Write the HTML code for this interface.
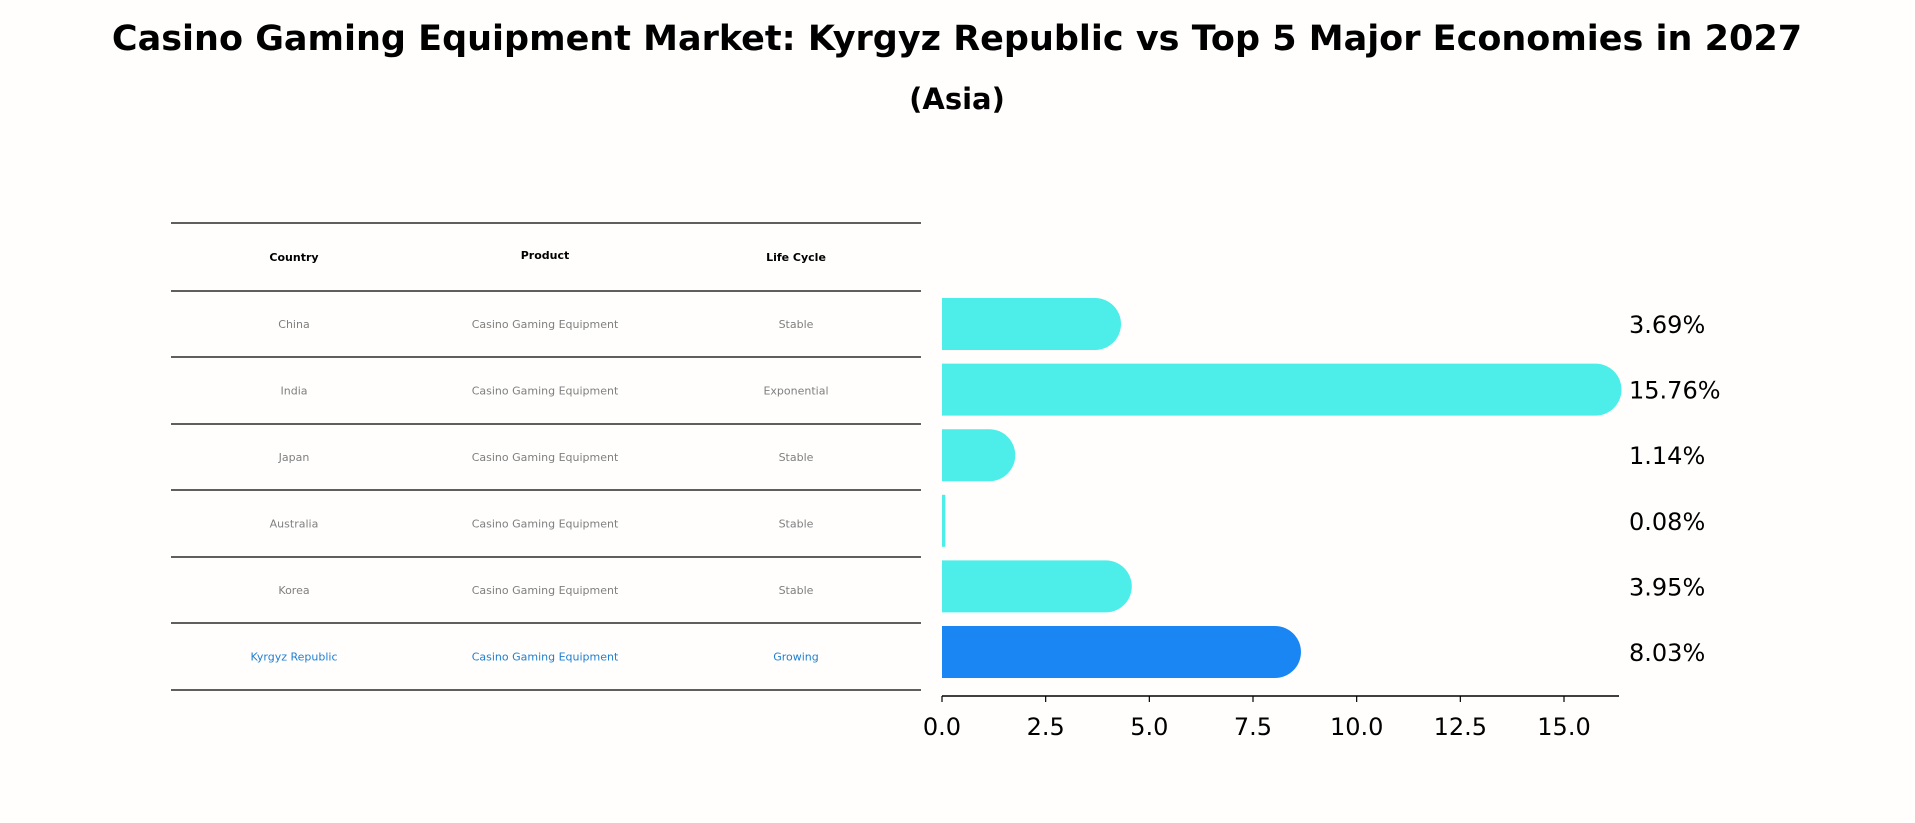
<!DOCTYPE html>
<html><head><meta charset="utf-8"><style>
body{margin:0;background:#fffefd;}
svg{display:block;font-family:"DejaVu Sans","Liberation Sans",sans-serif;}
</style></head><body>
<svg width="1915" height="823" viewBox="0 0 1915 823">
<rect width="1915" height="823" fill="#fffefd"/>
<text x="957" y="50" font-size="35" font-weight="bold" text-anchor="middle">Casino Gaming Equipment Market: Kyrgyz Republic vs Top 5 Major Economies in 2027</text>
<text x="957" y="109" font-size="29" font-weight="bold" text-anchor="middle">(Asia)</text>
<g id="table"></g>
<g id="bars"></g>
</svg>
<script>
const countries=["China","India","Japan","Australia","Korea","Kyrgyz Republic"];
const products=["Casino Gaming Equipment","Casino Gaming Equipment","Casino Gaming Equipment","Casino Gaming Equipment","Casino Gaming Equipment","Casino Gaming Equipment"];
const lifeCycles=["Stable","Exponential","Stable","Stable","Stable","Growing"];
const values=[3.69,15.76,1.14,0.08,3.95,8.03];
const tickLabels=[0,2.5,5,7.5,10,12.5,15];
const NS="http://www.w3.org/2000/svg";
function mk(tag,attrs,parent,txt){const e=document.createElementNS(NS,tag);for(const k in attrs)e.setAttribute(k,attrs[k]);if(txt!==undefined)e.textContent=txt;parent.appendChild(e);return e;}
const tbl=document.getElementById('table');
const lineYs=[223,291,357,424,490,557,623,690];
lineYs.forEach((y,i)=>{const l=mk('line',{x1:171,x2:921,y1:y,y2:y,stroke:'#000','stroke-width':1.2},tbl);

});
const colX=[294,545,796];
["Country","Product","Life Cycle"].forEach((h,i)=>{const t=mk('text',{x:colX[i],y:i==1?259:261,'font-size':11,'font-weight':'bold','text-anchor':'middle'},tbl,h);

});
countries.forEach((c,r)=>{const y=(lineYs[r+1]+lineYs[r+2])/2+4;const col=r==5?'#1f7fd0':'#7f7f7f';
[c,products[r],lifeCycles[r]].forEach((v,i)=>{const t=mk('text',{x:colX[i],y:y,'font-size':11,fill:col,'text-anchor':'middle'},tbl,v);

});});
const bars=document.getElementById('bars');
const x0=942,unit=622/15;
const xs=v=>x0+v*unit;
const yc=i=>324+i*65.6;
const bh=52,r=26;
values.forEach((v,i)=>{const x1=xs(v),top=yc(i)-bh/2,col=i==5?'#1a86f4':'#4deee9';let d;
if(v>0.5){d=`M${x0},${top} H${x1} A${r},${r} 0 0 1 ${x1},${top+bh} H${x0} Z`;}
else{d=`M${x0},${top} H${Math.max(x1,x0+3)} V${top+bh} H${x0} Z`;}
const p=mk('path',{d:d,fill:col},bars);


const t=mk('text',{x:1629,y:yc(i)+9,'font-size':24},bars,v.toFixed(2)+'%');

});
const ax=mk('line',{x1:x0,x2:1619,y1:696,y2:696,stroke:'#000','stroke-width':1.5},bars);


tickLabels.forEach(v=>{const tk=mk('line',{x1:xs(v),x2:xs(v),y1:696,y2:702,stroke:'#000','stroke-width':1.2},bars);


const t=mk('text',{x:xs(v),y:735,'font-size':24,'text-anchor':'middle'},bars,v.toFixed(1));

});
</script>
</body></html>
